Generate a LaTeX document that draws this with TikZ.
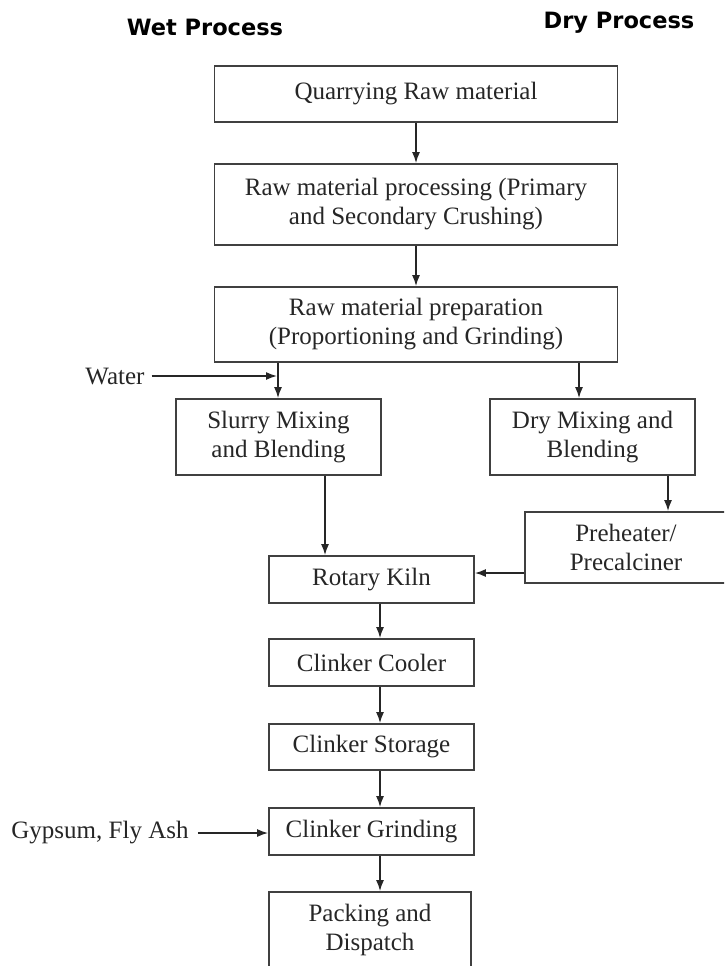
\documentclass[tikz,border=0pt]{standalone}
\usepackage{fontspec}
\setmainfont{Liberation Serif}
\newfontfamily\hdrfont{DejaVu Sans}
\usetikzlibrary{arrows.meta,calc}
\tikzset{
  box/.style={draw=black!75, line width=1.8pt, rectangle, align=center, inner sep=0pt,
    font=\fontsize{25}{29}\selectfont, text=black!85},
  arr/.style={draw=black!85, line width=1.5pt, -{Latex[length=11pt,width=8pt]}},
  hdr/.style={font=\hdrfont\bfseries\fontsize{22.5}{26}\selectfont, inner sep=0pt},
  lbl/.style={font=\fontsize{25}{29}\selectfont, inner sep=0pt, text=black!85}
}
\begin{document}
\begin{tikzpicture}[x=1pt,y=-1pt]
\useasboundingbox (0,0) rectangle (724,966);
\fill[white] (0,0) rectangle (724,966);
\clip (0,0) rectangle (724,966);

\node[hdr] (wet) at (205,27) {Wet Process};
\node[hdr] (dryh) at (619,23) {Dry Process};

\node[box, minimum width=403pt, minimum height=56pt] (quarry) at (416,94) {Quarrying Raw material};
\node[box, minimum width=403pt, minimum height=81pt] (proc) at (416,204.5) {Raw material processing (Primary\\and Secondary Crushing)};
\node[box, minimum width=403pt, minimum height=75pt] (prep) at (416,324.5) {Raw material preparation\\(Proportioning and Grinding)};
\node[box, minimum width=205pt, minimum height=76pt] (slurry) at (278.5,437) {Slurry Mixing\\and Blending};
\node[box, minimum width=205pt, minimum height=76pt] (dry) at (592.5,437) {Dry Mixing and\\Blending};
\node[box, minimum width=202pt, minimum height=71pt] (pre) at (626,547.5) {Preheater/\\Precalciner};
\node[box, minimum width=205pt, minimum height=47pt] (kiln) at (371.5,579.5) {Rotary Kiln};
\node[box, minimum width=205pt, minimum height=47pt] (cooler) at (371.5,662.5) {Clinker Cooler};
\node[box, minimum width=205pt, minimum height=46pt] (storage) at (371.5,747) {Clinker Storage};
\node[box, minimum width=205pt, minimum height=47pt] (grind) at (371.5,831.5) {Clinker Grinding};
\node[box, minimum width=202pt, minimum height=76pt] (pack) at (370,930) {Packing and\\Dispatch};

\node[lbl] (water) at (115,376) {Water};
\node[lbl] (gyp) at (100,833) {Gypsum, Fly Ash};

\coordinate (cw) at (278,0);
\coordinate (cd) at (579,0);
\coordinate (cs) at (325,0);
\coordinate (cp) at (668,0);
\coordinate (ck) at (380,0);
\coordinate (yw) at (0,376);
\coordinate (yp) at (0,573);
\coordinate (yg) at (0,833);

\draw[arr] (quarry.south) -- (proc.north);
\draw[arr] (proc.south) -- (prep.north);
\draw[arr] (prep.south -| cw) -- (slurry.north -| cw);
\draw[arr] ($(water.east)+(7,0)$) -- ($(yw -| cw)+(-1,0)$);
\draw[arr] (prep.south -| cd) -- (dry.north -| cd);
\draw[arr] (slurry.south -| cs) -- (kiln.north -| cs);
\draw[arr] (dry.south -| cp) -- (pre.north -| cp);
\draw[arr] (pre.west |- yp) -- (kiln.east |- yp);
\draw[arr] (kiln.south -| ck) -- (cooler.north -| ck);
\draw[arr] (cooler.south -| ck) -- (storage.north -| ck);
\draw[arr] (storage.south -| ck) -- (grind.north -| ck);
\draw[arr] ($(gyp.east)+(9,0)$) -- (grind.west |- yg);
\draw[arr] (grind.south -| ck) -- (pack.north -| ck);
\end{tikzpicture}
\end{document}
